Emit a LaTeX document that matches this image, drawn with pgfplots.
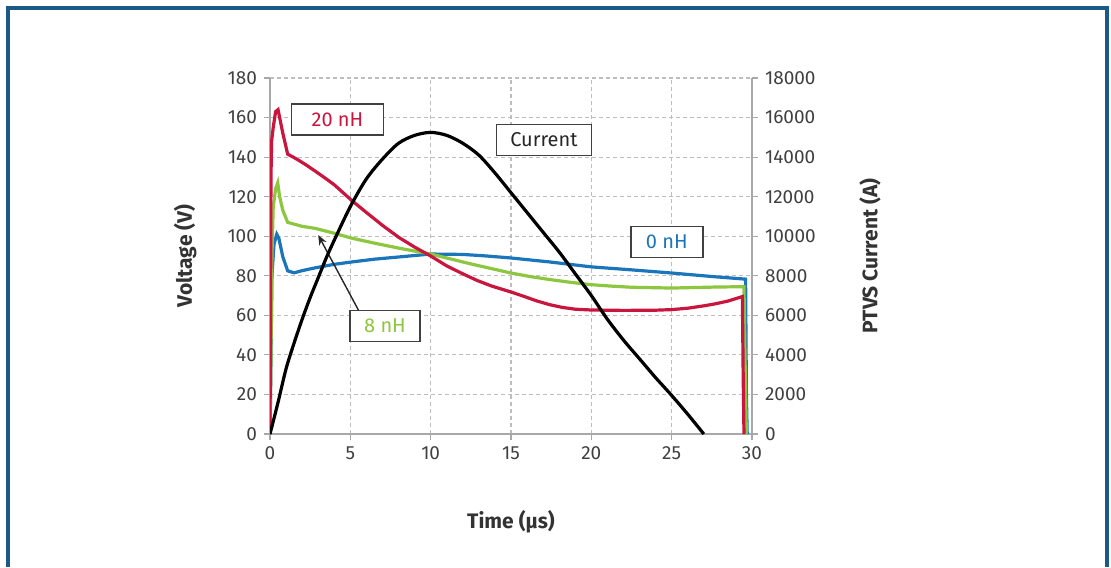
\documentclass[border=0pt]{standalone}
\usepackage{fontspec}
\setmainfont{Fira Sans}
\usepackage{pgfplots}
\pgfplotsset{compat=1.18}
\usetikzlibrary{arrows.meta}

\definecolor{frameblue}{HTML}{1B5A85}
\definecolor{nhtwenty}{HTML}{C8163F}
\definecolor{nheight}{HTML}{8DC63F}
\definecolor{nhzero}{HTML}{1B75BB}
\definecolor{gridgray}{HTML}{BDBDBD}
\definecolor{axisgray}{HTML}{A8A8A8}
\definecolor{ticktext}{HTML}{404040}

\pgfplotsset{
  ptvs/.style={
    scale only axis, width=241pt, height=178pt,
    at={(135pt,-217pt)}, anchor=south west,
    xmin=0, xmax=30,
    axis line style={draw=axisgray, line width=0.8pt},
    every non boxed x axis/.append style={x axis line style=-},
    every non boxed y axis/.append style={y axis line style=-},
    tick style={draw=axisgray, line width=0.6pt},
    major tick length=3pt,
    tick align=outside,
    ticklabel style={font=\fontsize{9.5}{11}\selectfont, text=ticktext},
    label style={font=\bfseries\fontsize{10.5}{12}\selectfont, text=black!80},
    /pgf/number format/assume math mode=true,
  },
}
\tikzset{
  tag/.style={draw=black!75, line width=0.8pt, fill=white,
    minimum height=15.5pt, font=\fontsize{10}{12}\selectfont},
}

\begin{document}
\begin{tikzpicture}
\path[use as bounding box] (0,0) rectangle (555.5pt,-283.5pt);
\draw[frameblue, line width=1.6pt] (4pt,-283.5pt) -- (4pt,-4pt) -- (553.5pt,-4pt) -- (553.5pt,-283.5pt);

\begin{axis}[ptvs,
  axis x line*=bottom, axis y line*=left,
  ymin=0, ymax=180, ytick={0,20,...,180}, xtick={0,5,...,30},
  grid=major,
  major grid style={draw=gridgray, dash pattern=on 2pt off 1.5pt, line width=0.6pt},
  xlabel={Time (µs)}, ylabel={Voltage (V)},
  xlabel style={at={(axis description cs:0.5,-0.247)}, anchor=center},
  ylabel style={at={(axis description cs:-0.176,0.5)}, anchor=center},
]
% 0 nH
\addplot[nhzero, line width=1.6pt] coordinates {
  (0,0) (0.05,30) (0.12,80) (0.25,96) (0.42,101) (0.55,99) (0.8,89.5)
  (1.1,82.5) (1.5,81.5) (2,82.6) (2.8,84) (4,85.8) (5.1,87) (6.5,88.4)
  (8,89.5) (10,91) (12,90.8) (13.5,90) (15,89) (17.4,87) (20,84.5)
  (22.5,83) (25,81.4) (27.7,79.5) (29.6,78.3) (29.65,20) (29.7,0)
};
% 8 nH
\addplot[nheight, line width=1.6pt] coordinates {
  (0,0) (0.05,30) (0.12,90) (0.2,115) (0.35,124) (0.48,127) (0.6,120)
  (0.8,113) (1.1,107) (2,105) (2.8,104) (4,101.5) (5.1,99) (6.5,96.5)
  (8,94) (10,91) (11.2,88.6) (12.5,86) (13.8,83.6) (15,81.4) (16.2,79.6)
  (17.5,78) (18.8,76.6) (20,75.5) (21.2,74.8) (22.5,74.2) (25,73.8)
  (27.7,74.3) (29.5,74.5) (29.6,20) (29.65,0)
};
% 20 nH
\addplot[nhtwenty, line width=1.6pt] coordinates {
  (0,0) (0.03,60) (0.06,130) (0.1,148) (0.2,155) (0.35,163) (0.5,164)
  (0.6,160) (0.8,152) (1.1,141.5) (1.6,139.3) (2.2,136.3) (2.8,133)
  (3.5,129) (4,126) (5.1,118) (6,112) (7,105.5) (8,99.5) (9,94.5)
  (10,90) (11,85) (12,81) (12.9,77.6) (13.8,74.8) (15,71.8) (15.8,69.6)
  (16.6,67.3) (17.4,65.4) (18.2,64) (19,63.1) (20,62.7) (22,62.5)
  (24,62.6) (25,62.9) (26,63.6) (27,64.8) (27.7,65.8) (28.5,67.2)
  (29.4,69.5) (29.45,30) (29.5,0)
};
\node[tag, text=nhtwenty, minimum width=46pt] at (axis cs:4.2,159) {20 nH};
\node[tag, text=black!85, minimum width=47.5pt] at (axis cs:17.05,148.6) {Current};
\node[tag, text=nhzero, minimum width=36pt] at (axis cs:24.7,97) {0 nH};
\node[tag, text=nheight, minimum width=35pt] at (axis cs:7.16,54.6) {8 nH};
\draw[black!85, line width=0.7pt, -{Stealth[length=5pt,width=4pt]}]
  (axis cs:5.5,62.7) -- (axis cs:3.0,100.6);
\end{axis}

\begin{axis}[ptvs,
  axis x line=none, axis y line*=right,
  ymin=0, ymax=18000, ytick={0,2000,...,18000},
  scaled y ticks=false, /pgf/number format/1000 sep={},
]
\addplot[black, line width=1.6pt, smooth, tension=0.5] coordinates {
  (0,0) (0.5,1600) (1,3300) (1.5,4600) (2,5800) (2.5,6900) (3,7900)
  (3.5,8900) (4,9800) (5,11500) (6,12900) (7,13900) (8,14700) (9,15100)
  (10,15250) (11,15100) (12,14700) (13,14100) (14,13200) (15,12200)
  (16,11200) (17,10200) (18,9200) (19,8100) (20,7000) (21,5800)
  (22,4750) (23,3800) (24,2850) (25,1950) (26,1000) (27,0)
};
\end{axis}
\node[rotate=90, font=\bfseries\fontsize{10.5}{12}\selectfont, text=black!80]
  at (435pt,-128pt) {PTVS Current (A)};
\end{tikzpicture}
\end{document}
